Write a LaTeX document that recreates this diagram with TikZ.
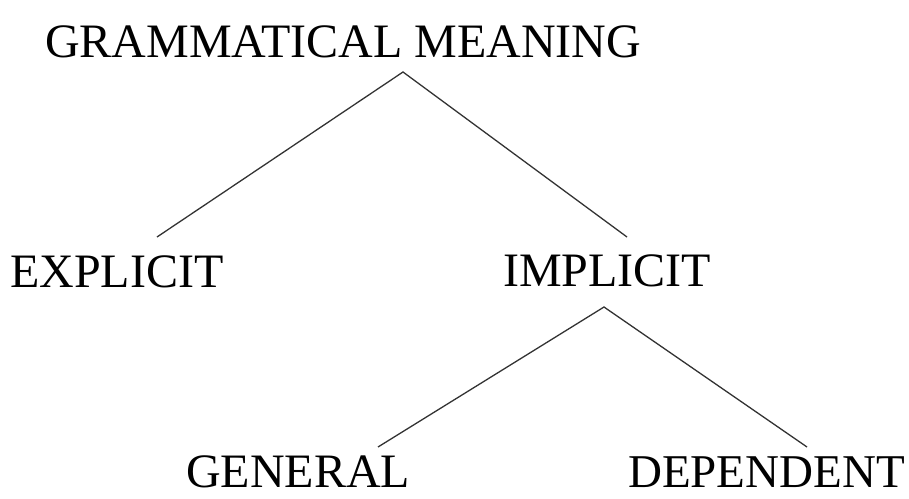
\documentclass[tikz,border=0pt]{standalone}
\usepackage{fontspec}
\setmainfont{Liberation Serif}
\begin{document}
\begin{tikzpicture}[x=1pt,y=-1pt,
  lbl/.style={anchor=base west,inner sep=0pt,font=\fontsize{48}{50}\selectfont},
  branch/.style={draw=black!80,line width=1.3pt}]
\useasboundingbox (0,0) rectangle (909,498);
\node[lbl] (gm) at (45,57) {GRAMMATICAL MEANING};
\node[lbl] (ex) at (10,287) {EXPLICIT};
\node[lbl] (im) at (503,286) {IMPLICIT};
\node[lbl] (ge) at (186,487) {GENERAL};
\node[lbl,font=\fontsize{47}{50}\selectfont] (de) at (628,487) {DEPENDENT};
\coordinate (gmb) at (403,72);
\coordinate (ext) at (157,237);
\coordinate (imt) at (627,237);
\coordinate (imb) at (604,307);
\coordinate (get) at (378,447);
\coordinate (det) at (807,447);
\draw[branch] (ext) -- (gmb) -- (imt);
\draw[branch] (get) -- (imb) -- (det);
\end{tikzpicture}
\end{document}
